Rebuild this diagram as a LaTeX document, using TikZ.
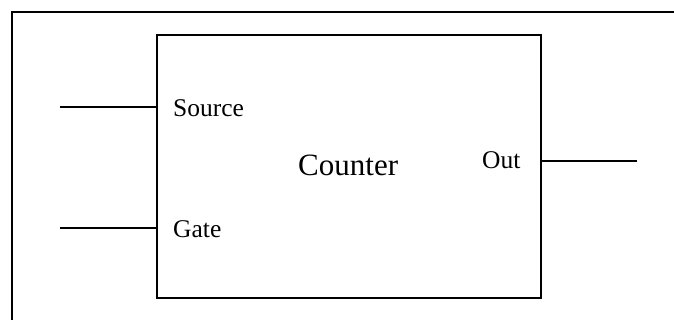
\documentclass[tikz,border=0pt]{standalone}
\usepackage{fontspec}
\setmainfont{Liberation Serif}
\begin{document}
\begin{tikzpicture}[x=1pt,y=-1pt,
  wire/.style={line width=2.7pt},
  lbl/.style={anchor=base west,inner sep=0pt,font=\fontsize{25.5}{30}\selectfont},
  bigl/.style={anchor=base west,inner sep=0pt,font=\fontsize{31}{36}\selectfont},
  blk/.style={draw,line width=2.7pt,minimum width=384pt,minimum height=263pt,inner sep=0pt}]
\useasboundingbox (0,0) rectangle (674,320);
\draw[wire] (12,321) -- (12,12) -- (675,12);
\node[blk] (box) at (349,166.5) {};
\coordinate (s0) at (60,107);
\coordinate (g0) at (60,228);
\coordinate (o0) at (637,161);
\draw[wire] (s0) -- (s0 -| box.west);
\draw[wire] (g0) -- (g0 -| box.west);
\draw[wire] (o0 -| box.east) -- (o0);
\node[lbl] (src) at (173,117) {Source};
\node[lbl] (gate) at (173,237) {Gate};
\node[lbl] (out) at (482,169) {Out};
\node[bigl] (cnt) at (298,176) {Counter};
\end{tikzpicture}
\end{document}
